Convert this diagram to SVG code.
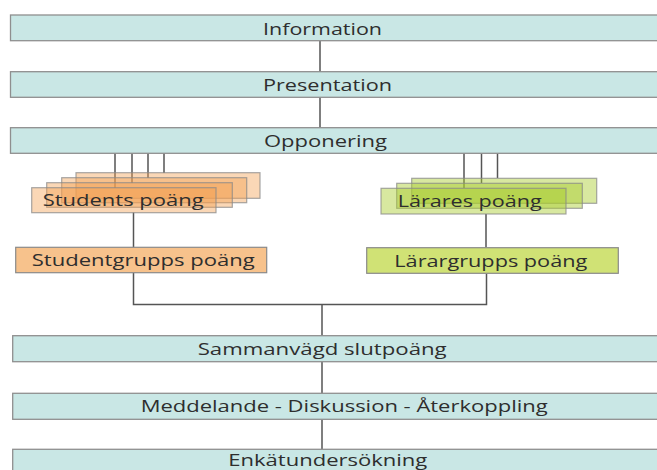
<svg xmlns="http://www.w3.org/2000/svg" width="657" height="470" viewBox="0 0 657 470">
<style>
.bar{fill:#c9e7e5;stroke:#8f8f8f;stroke-width:1.3}
.or{fill:#f2a050;fill-opacity:0.42;stroke:#8a8a8a;stroke-opacity:0.75;stroke-width:1.2}
.gr{fill:#a9cc2c;fill-opacity:0.45;stroke:#8a8a8a;stroke-opacity:0.75;stroke-width:1.2}
.orf{fill:#f7c28c;stroke:#8a8a8a;stroke-width:1.2}
.grf{fill:#d0e275;stroke:#8a8a8a;stroke-width:1.2}
text{font-family:"Open Sans","Liberation Sans",sans-serif;font-size:17px;fill:#2e2e2e}
.c{fill:none;stroke:#555;stroke-width:1.5}
</style>
<g id="connectors">
<line class="c" x1="320" y1="41" x2="320" y2="72"/>
<line class="c" x1="320" y1="97" x2="320" y2="128"/>
<line class="c" x1="115" y1="153" x2="115" y2="188"/>
<line class="c" x1="132" y1="153" x2="132" y2="183"/>
<line class="c" x1="148" y1="153" x2="148" y2="178"/>
<line class="c" x1="164" y1="153" x2="164" y2="173"/>
<line class="c" x1="464" y1="153" x2="464" y2="188"/>
<line class="c" x1="481.5" y1="153" x2="481.5" y2="183"/>
<line class="c" x1="497.5" y1="153" x2="497.5" y2="178"/>
<line class="c" x1="133.5" y1="212.5" x2="133.5" y2="247.5"/>
<line class="c" x1="486" y1="214" x2="486" y2="247.5"/>
<polyline class="c" points="133.5,272.5 133.5,304.5 486.5,304.5 486.5,273.5"/>
<line class="c" x1="322" y1="304.5" x2="322" y2="336"/>
<line class="c" x1="322" y1="361.5" x2="322" y2="393.5"/>
<line class="c" x1="322" y1="419.5" x2="322" y2="449.5"/>
</g>
<g id="information">
<rect class="bar" x="10.5" y="15" width="660" height="25.7"/>
<text x="263" y="35" textLength="119" lengthAdjust="spacingAndGlyphs">Information</text>
</g>
<g id="presentation">
<rect class="bar" x="10.5" y="71.7" width="660" height="25.6"/>
<text x="263" y="91" textLength="129" lengthAdjust="spacingAndGlyphs">Presentation</text>
</g>
<g id="opponering">
<rect class="bar" x="10.5" y="127.7" width="660" height="25.6"/>
<text x="264" y="146.7" textLength="123" lengthAdjust="spacingAndGlyphs">Opponering</text>
</g>
<g id="students-poang">
<rect class="or" x="76" y="172.7" width="184" height="25.6"/>
<rect class="or" x="61.7" y="177.7" width="185" height="25"/>
<rect class="or" x="46.7" y="182.7" width="185.6" height="24.6"/>
<rect class="or" x="31.7" y="187.7" width="184.3" height="25"/>
<text x="42.7" y="206" textLength="161" lengthAdjust="spacingAndGlyphs">Students poäng</text>
</g>
<g id="studentgrupps-poang">
<rect class="orf" x="15.7" y="247.3" width="251" height="25.4"/>
<text x="31.7" y="266" textLength="223" lengthAdjust="spacingAndGlyphs">Studentgrupps poäng</text>
</g>
<g id="larares-poang">
<rect class="gr" x="411.7" y="178.3" width="185" height="25"/>
<rect class="gr" x="396.7" y="183.3" width="185.6" height="25"/>
<rect class="gr" x="381" y="188.3" width="185" height="25.7"/>
<text x="397.7" y="207.3" textLength="144" lengthAdjust="spacingAndGlyphs">Lärares poäng</text>
</g>
<g id="larargrupps-poang">
<rect class="grf" x="366.7" y="247.7" width="251.6" height="25.6"/>
<text x="394.3" y="267.3" textLength="193" lengthAdjust="spacingAndGlyphs">Lärargrupps poäng</text>
</g>
<g id="sammanvagd-slutpoang">
<rect class="bar" x="12.7" y="335.7" width="660" height="26"/>
<text x="197.7" y="355" textLength="249" lengthAdjust="spacingAndGlyphs">Sammanvägd slutpoäng</text>
</g>
<g id="meddelande">
<rect class="bar" x="12.7" y="393.3" width="660" height="26"/>
<text x="140.7" y="411.7" textLength="407" lengthAdjust="spacingAndGlyphs">Meddelande - Diskussion - Återkoppling</text>
</g>
<g id="enkatundersokning">
<rect class="bar" x="12.7" y="449.3" width="660" height="30"/>
<text x="228.3" y="465.5" textLength="199" lengthAdjust="spacingAndGlyphs">Enkätundersökning</text>
</g>
</svg>
